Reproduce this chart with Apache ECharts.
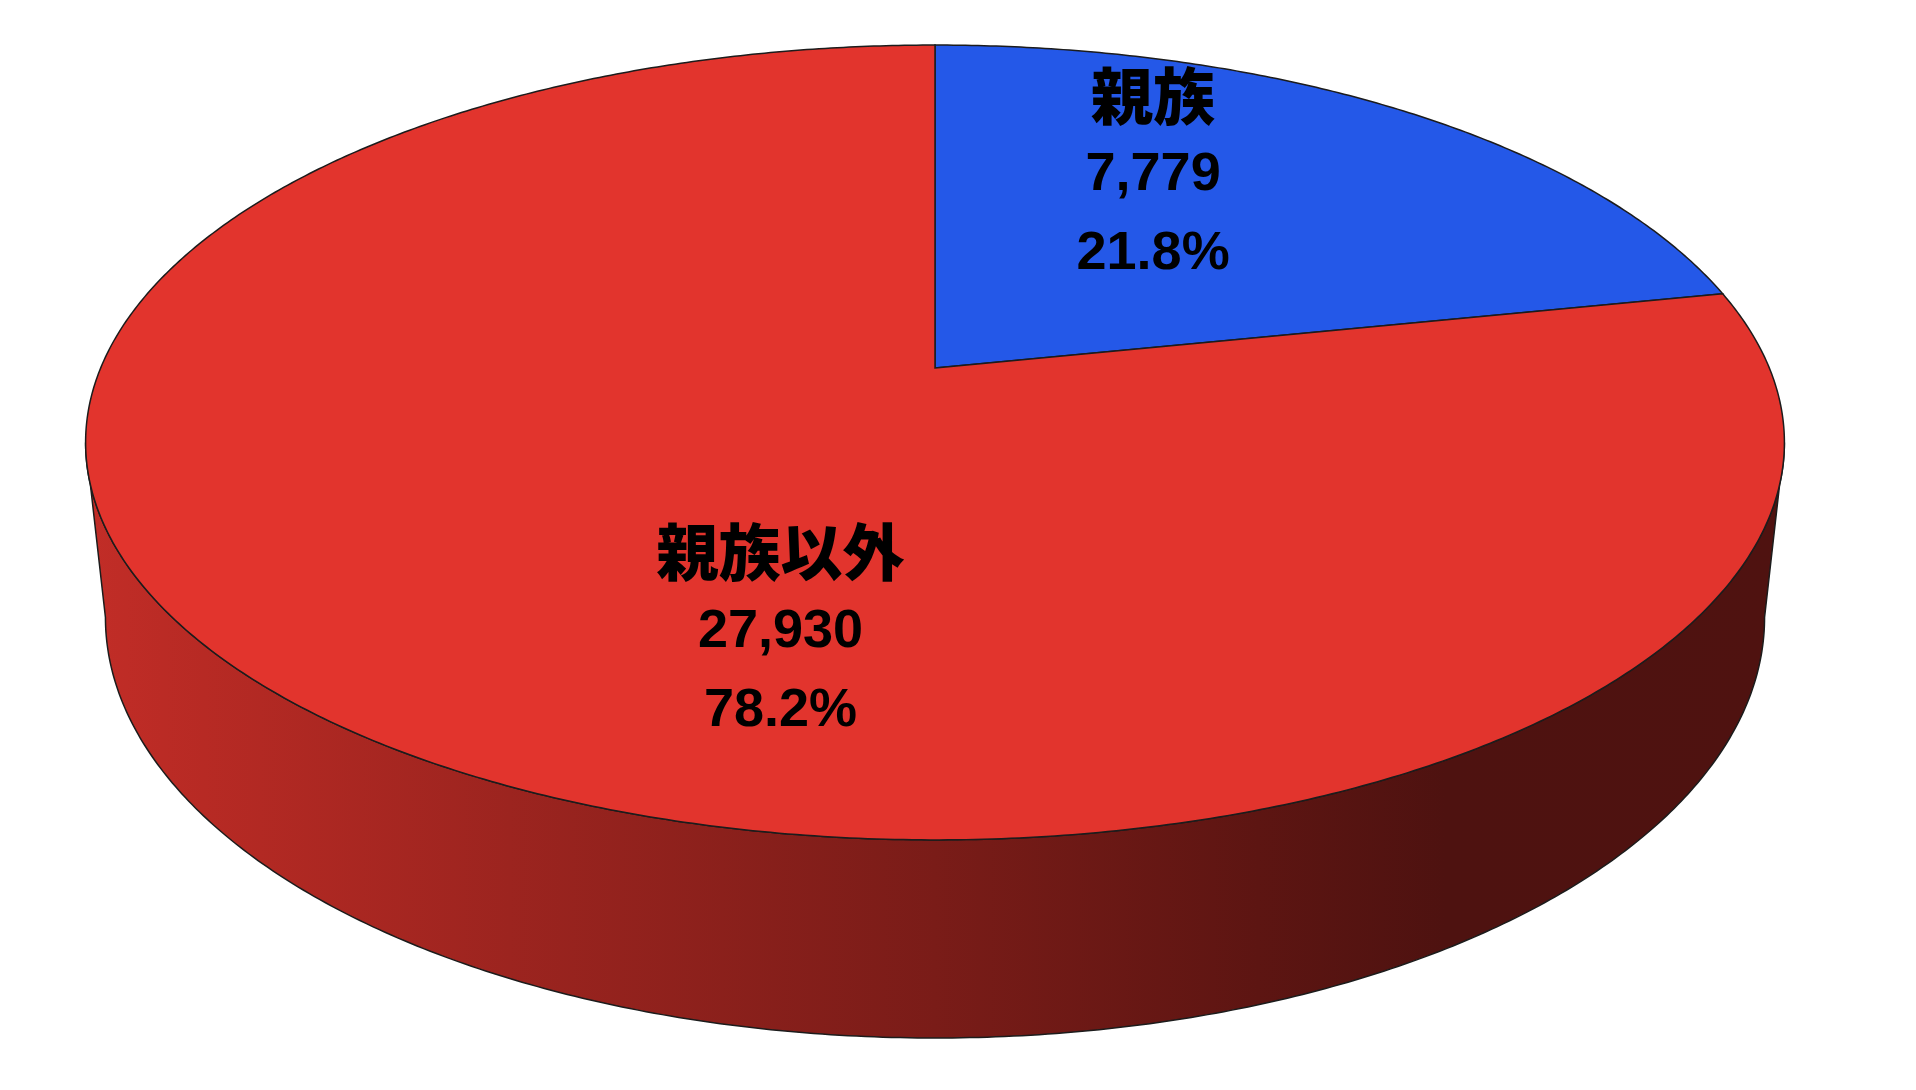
<!DOCTYPE html>
<html>
<head>
<meta charset="utf-8">
<title>親族・親族以外</title>
<script src="https://cdn.jsdelivr.net/npm/echarts@6/dist/echarts.min.js"></script>
<style>
  html, body { margin: 0; padding: 0; background: #fff; }
  #main { width: 1916px; height: 1090px; }
</style>
</head>
<body>
<div id="main"></div>
<script>
// データ
var categories = ['親族', '親族以外'];
var values = [7779, 27930];
var sliceColors = ['#2458e8', '#e2342d'];

// 3D pie view (perspective camera)
var view = { cx: 935, cy: 368, f: 3954, dist: 4.739, tilt: 27.36 * Math.PI / 180, height: 0.2381 };
// label distance from the ellipse centre, as a share of the rim distance
var labelDist = [0.72, 0.51];

var total = values.reduce(function (a, b) { return a + b; }, 0);

function project(r, theta, y) {
  var ca = Math.cos(view.tilt), sa = Math.sin(view.tilt);
  var X = r * Math.sin(theta), Z = r * Math.cos(theta);
  var yc = y * ca + Z * sa;
  var zc = view.dist + Z * ca - y * sa;
  return [view.cx + view.f * X / zc, view.cy - view.f * yc / zc];
}

function arc(t0, t1, y) {
  var pts = [];
  var n = Math.max(2, Math.ceil(Math.abs(t1 - t0) / (Math.PI / 360)));
  for (var i = 0; i <= n; i++) pts.push(project(1, t0 + (t1 - t0) * i / n, y));
  return pts;
}

// angle where the rim at height y turns away (left/right silhouette)
function rimEdge(y) {
  return Math.acos(-Math.cos(view.tilt) / (view.dist - y * Math.sin(view.tilt)));
}

// bounding ellipse of the top face
var ell = (function () {
  var pts = arc(0, 2 * Math.PI, 0);
  var xs = pts.map(function (p) { return p[0]; }), ys = pts.map(function (p) { return p[1]; });
  var x0 = Math.min.apply(null, xs), x1 = Math.max.apply(null, xs);
  var y0 = Math.min.apply(null, ys), y1 = Math.max.apply(null, ys);
  return { cx: (x0 + x1) / 2, cy: (y0 + y1) / 2, rx: (x1 - x0) / 2, ry: (y1 - y0) / 2 };
})();

function shade(hex, k) {
  var n = parseInt(hex.slice(1), 16);
  var r = Math.round(((n >> 16) & 255) * k), g = Math.round(((n >> 8) & 255) * k), b = Math.round((n & 255) * k);
  return 'rgb(' + r + ',' + g + ',' + b + ')';
}

function sideFill(color) {
  return new echarts.graphic.LinearGradient(0, 0, 1, 0, [
    { offset: 0, color: shade(color, 0.86) },
    { offset: 0.07, color: shade(color, 0.81) },
    { offset: 0.25, color: shade(color, 0.69) },
    { offset: 0.5, color: shade(color, 0.54) },
    { offset: 0.69, color: shade(color, 0.41) },
    { offset: 0.8, color: shade(color, 0.345) },
    { offset: 1, color: shade(color, 0.35) }
  ]);
}

function renderItem(params, api) {
  var i = params.dataIndex;
  var before = 0;
  for (var k = 0; k < i; k++) before += values[k];
  var t0 = before / total * 2 * Math.PI;
  var t1 = (before + api.value(1)) / total * 2 * Math.PI;
  var children = [];

  // 側面
  var h = -view.height;
  var topE = rimEdge(0), botE = rimEdge(h);
  var a0 = Math.max(t0, topE), a1 = Math.min(t1, 2 * Math.PI - topE);
  var b0 = Math.max(t0, botE), b1 = Math.min(t1, 2 * Math.PI - botE);
  if (a1 > a0 && b1 > b0) {
    children.push({
      type: 'polygon',
      z2: 1,
      shape: { points: arc(a0, a1, 0).concat(arc(b1, b0, h)) },
      style: { fill: sideFill(sliceColors[i]), stroke: '#1c1c1c', lineWidth: 1.5 }
    });
  }

  // 上面
  children.push({
    type: 'polygon',
    z2: 5,
    shape: { points: [project(0, 0, 0)].concat(arc(t0, t1, 0)) },
    style: { fill: sliceColors[i], stroke: '#1c1c1c', lineWidth: 1.5 }
  });

  // ラベル
  var mid = (t0 + t1) / 2;
  var dx = Math.sin(mid), dy = -Math.cos(mid);
  var rr = 1 / Math.sqrt(Math.pow(dx / ell.rx, 2) + Math.pow(dy / ell.ry, 2));
  var pct = (api.value(1) / total * 100).toFixed(1) + '%';
  children.push({
    type: 'text',
    z2: 10,
    x: ell.cx + dx * rr * labelDist[i],
    y: ell.cy + dy * rr * labelDist[i],
    style: {
      text: '{n|' + categories[i] + '}\n{v|' + api.value(1).toLocaleString('en-US') + '}\n{v|' + pct + '}',
      align: 'center',
      verticalAlign: 'middle',
      rich: {
        n: { fontSize: 62, fontFamily: 'Noto Sans CJK JP', fontWeight: 900, lineHeight: 79, fill: '#000', align: 'center' },
        v: { fontSize: 54, fontFamily: 'Liberation Sans', fontWeight: 'bold', lineHeight: 79, fill: '#000', align: 'center' }
      }
    }
  });

  return { type: 'group', children: children };
}

var chart = echarts.init(document.getElementById('main'));
var option = {
  backgroundColor: '#fff',
  animation: false,
  series: [{
    type: 'custom',
    coordinateSystem: 'none',
    silent: true,
    renderItem: renderItem,
    data: values.map(function (v, i) { return [i, v]; })
  }]
};
chart.setOption(option);
</script>
</body>
</html>
